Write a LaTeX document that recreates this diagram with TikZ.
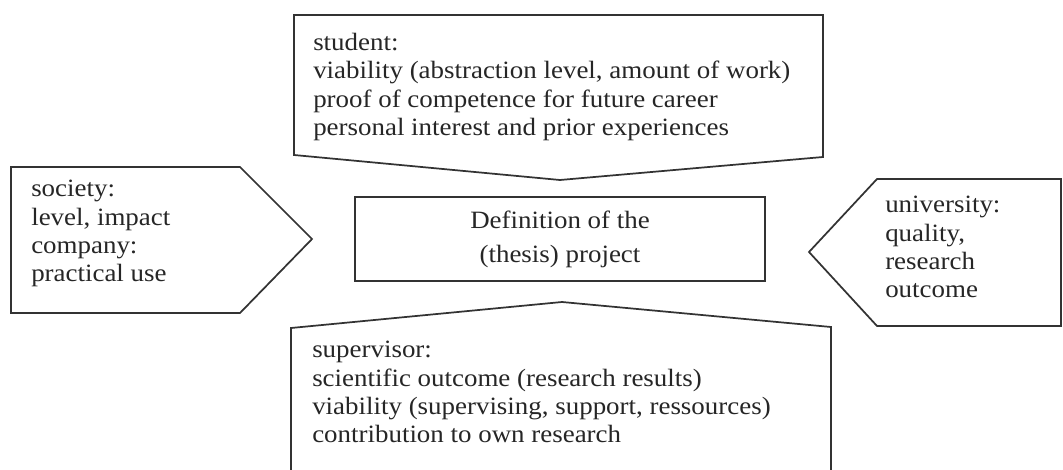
\documentclass[tikz,border=0pt]{standalone}
\usepackage{fontspec}
\setmainfont[FakeStretch=1.08]{Liberation Serif}
\begin{document}
\begin{tikzpicture}[x=0.75pt,y=-0.75pt,
  outline/.style={draw=black!80, line width=1.3pt, line join=miter},
  label/.style={inner sep=0pt, anchor=north west, align=left, text=black!85,
    font=\fontsize{18.7}{21.3}\selectfont}]
\useasboundingbox (0,0) rectangle (1063,470);

% student: box pointing down
\draw[outline] (294,15) -- (823,15) -- (823,157) -- (560,180) -- (294,155) -- cycle;
\node[label] (stud) at (313,33) {student:\\viability (abstraction level, amount of work)\\proof of competence for future career\\personal interest and prior experiences};

% society / company: box pointing right
\draw[outline] (11,167) -- (240,167) -- (312,239) -- (240,313) -- (11,313) -- cycle;
\node[label] (soc) at (31,180) {society:\\level, impact\\company:\\practical use};

% university: box pointing left
\draw[outline] (1061,179) -- (877,179) -- (809,252) -- (877,326) -- (1061,326) -- cycle;
\node[label] (univ) at (885,196) {university:\\quality,\\research\\outcome};

% supervisor: box pointing up, open at the bottom
\draw[outline] (291,475) -- (291,328) -- (562,302) -- (831,327) -- (831,475);
\node[label] (sup) at (312,341) {supervisor:\\scientific outcome (research results)\\viability (supervising, support, ressources)\\contribution to own research};

% central box
\node[outline, minimum width=307.5pt, minimum height=63pt, inner sep=0pt,
  align=center, text=black!85, font=\fontsize{18.7}{25.5}\selectfont] (def) at (560,239)
  {Definition of the\\(thesis) project};
\end{tikzpicture}
\end{document}
